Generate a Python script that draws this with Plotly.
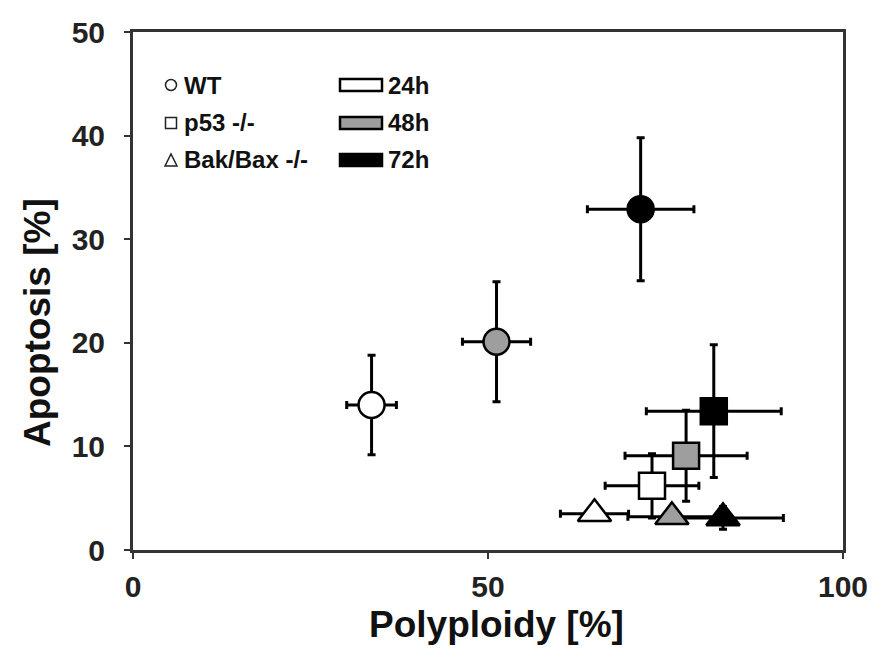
import plotly.graph_objects as go

# ---- data ----
timepoints = ["24h", "48h", "72h"]
genotypes = ["WT", "p53 -/-", "Bak/Bax -/-"]

wt_poly = [33.6, 51.2, 71.5]
wt_poly_err = [3.5, 4.8, 7.5]
wt_apop = [14.0, 20.1, 32.9]
wt_apop_err = [4.8, 5.8, 6.9]

p53_poly = [73.1, 77.9, 81.8]
p53_poly_err = [6.6, 8.6, 9.5]
p53_apop = [6.2, 9.1, 13.4]
p53_apop_err = [3.1, 4.4, 6.4]

bak_poly = [65.0, 75.9, 83.1]
bak_poly_err = [4.8, 6.2, 8.5]
bak_apop = [3.5, 3.2, 3.1]
bak_apop_err = [0.6, 0.6, 1.1]

x_ticks = [0, 50, 100]
y_ticks = [0, 10, 20, 30, 40, 50]
x_title = "Polyploidy [%]"
y_title = "Apoptosis [%]"

# ---- styling ----
FONT = "Liberation Sans"
time_colors = ["white", "#9e9e9e", "black"]
OFF = 8  # page body margin
W, H = 862, 637
L, R, T, B = 125, 27, 24, 95
PW, PH = W - L - R, H - T - B


def px_x(px):
    # screen px -> paper
    return (px - OFF - L) / PW


def px_y(py):
    return (H - B - (py - OFF)) / PH


fig = go.Figure()

series = [
    (wt_poly, wt_poly_err, wt_apop, wt_apop_err, "circle", 26),
    (p53_poly, p53_poly_err, p53_apop, p53_apop_err, "square", 26),
    (bak_poly, bak_poly_err, bak_apop, bak_apop_err, "triangle-up", 29),
]
for name, (xp, xe, yp, ye, sym, sz) in zip(genotypes, series):
    fig.add_trace(go.Scatter(
        x=xp, y=yp, mode="markers", name=name,
        marker=dict(symbol=sym, size=sz, color=time_colors,
                    line=dict(color="black", width=2.5)),
        error_x=dict(type="data", array=xe, color="black", thickness=3, width=4),
        error_y=dict(type="data", array=ye, color="black", thickness=3, width=4),
        showlegend=False, cliponaxis=False,
    ))

# ---- custom legend ----
shapes = []
annotations = []
lf = dict(family=FONT, size=24, color="#111", weight="bold")
rows_y = [85, 123, 160]
cx, s = 171, 5.5
shapes.append(dict(type="circle", xref="paper", yref="paper",
                   x0=px_x(cx - s), x1=px_x(cx + s), y0=px_y(rows_y[0] + s), y1=px_y(rows_y[0] - s),
                   line=dict(color="#222", width=1.5), fillcolor="white"))
shapes.append(dict(type="rect", xref="paper", yref="paper",
                   x0=px_x(cx - s), x1=px_x(cx + s), y0=px_y(rows_y[1] + s), y1=px_y(rows_y[1] - s),
                   line=dict(color="#222", width=1.5), fillcolor="white"))
ty = rows_y[2]
path = "M {:.4f} {:.4f} L {:.4f} {:.4f} L {:.4f} {:.4f} Z".format(
    px_x(cx - 6), px_y(ty + 6), px_x(cx + 6), px_y(ty + 6), px_x(cx), px_y(ty - 6))
shapes.append(dict(type="path", xref="paper", yref="paper", path=path,
                   line=dict(color="#222", width=1.5), fillcolor="white"))
for g, yy in zip(genotypes, rows_y):
    annotations.append(dict(text=g, xref="paper", yref="paper", x=px_x(182), y=px_y(yy),
                            xanchor="left", yanchor="middle", showarrow=False, font=lf))
for t, c, yy in zip(timepoints, time_colors, rows_y):
    shapes.append(dict(type="rect", xref="paper", yref="paper",
                       x0=px_x(340), x1=px_x(382), y0=px_y(yy + 6), y1=px_y(yy - 6),
                       line=dict(color="black", width=2.5), fillcolor=c))
    annotations.append(dict(text=t, xref="paper", yref="paper", x=px_x(386), y=px_y(yy),
                            xanchor="left", yanchor="middle", showarrow=False, font=lf))

# ---- axis titles ----
tf = dict(family=FONT, size=37, color="#111", weight="bold")
annotations.append(dict(text=x_title, xref="paper", yref="paper", x=px_x(496), y=px_y(624),
                        xanchor="center", yanchor="middle", showarrow=False, font=tf))
annotations.append(dict(text=y_title, xref="paper", yref="paper", x=px_x(37), y=px_y(323),
                        xanchor="center", yanchor="middle", showarrow=False, font=tf,
                        textangle=-90))

axis_common = dict(
    showline=True, linecolor="#333", linewidth=3, mirror=True,
    ticks="outside", ticklen=6, tickwidth=2, tickcolor="#333",
    showgrid=False, zeroline=False, automargin=False,
    tickfont=dict(family=FONT, size=30, color="#222", weight="bold"),
)

fig.update_layout(
    width=W, height=H,
    margin=dict(l=L, r=R, t=T, b=B, autoexpand=False),
    paper_bgcolor="white", plot_bgcolor="white",
    shapes=shapes, annotations=annotations,
    xaxis=dict(range=[0, 100], tickvals=x_ticks, ticklabelstandoff=2, **axis_common),
    yaxis=dict(range=[0, 50], tickvals=y_ticks, ticklabelstandoff=13, **axis_common),
)

fig.write_html("out.html")
